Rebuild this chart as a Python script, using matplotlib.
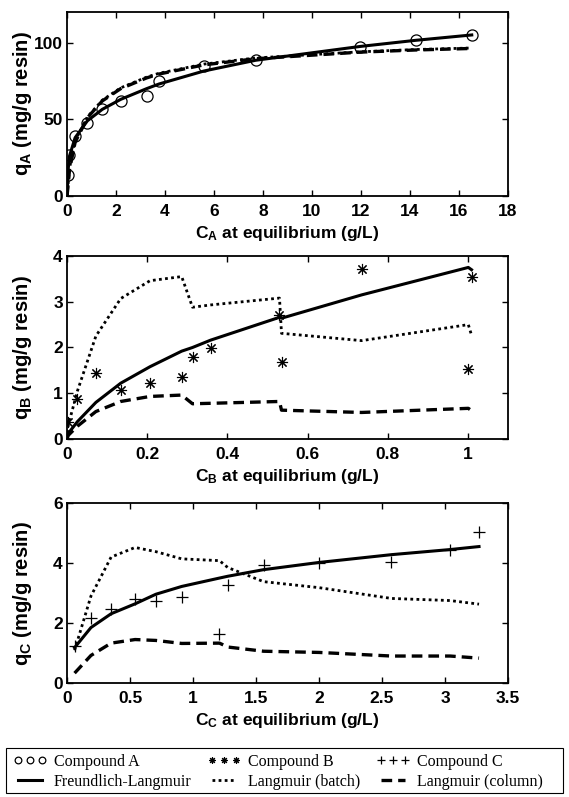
import matplotlib
matplotlib.use("Agg")
import matplotlib.pyplot as plt
from matplotlib.ticker import FixedLocator, FixedFormatter
from matplotlib.patches import Rectangle

plt.rcParams["font.family"] = ["Liberation Sans", "DejaVu Sans"]
plt.rcParams["mathtext.fontset"] = "custom"
plt.rcParams["mathtext.rm"] = "Liberation Sans:bold"
plt.rcParams["mathtext.it"] = "Liberation Sans:bold"
plt.rcParams["mathtext.bf"] = "Liberation Sans:bold"

# ---- Compound A ----
ca_obs = [0.05, 0.1, 0.33, 0.83, 1.44, 2.19, 3.25, 3.75, 5.59, 7.7, 11.96, 14.23, 16.52]
qa_obs = [14, 27, 39, 47.5, 56.7, 62, 65.5, 75, 84.5, 88.5, 97, 102, 105]
ca_fit = [0, 0.05, 0.1, 0.33, 0.83, 1.44, 2.19, 3.25, 3.75, 5.59, 7.7, 11.96, 14.23, 16.52]
qa_fl = [0, 18, 26, 38, 49, 56.5, 63, 70, 73, 81.5, 88.5, 97.5, 101.5, 105]
qa_batch = [0, 9, 18, 36, 51.5, 62.5, 70.5, 77.5, 80, 86, 90, 94, 95.5, 96.5]
qa_col = [0, 8, 17, 35, 51, 62, 70, 77, 79.5, 85.5, 89.5, 93.8, 95.2, 96.2]

# ---- Compound B ----
cb_obs = [0.003, 0.026, 0.072, 0.134, 0.207, 0.286, 0.313, 0.358, 0.53, 0.535, 0.735, 1.001, 1.009]
qb_obs = [0.38, 0.87, 1.44, 1.06, 1.23, 1.35, 1.79, 1.98, 2.71, 1.69, 3.71, 1.52, 3.53]
cb_fit = [0, 0.003, 0.026, 0.072, 0.134, 0.207, 0.286, 0.313, 0.358, 0.53, 0.535, 0.735, 1.001, 1.009]
qb_fl = [0, 0.12, 0.38, 0.8, 1.22, 1.58, 1.92, 2.0, 2.16, 2.66, 2.64, 3.15, 3.75, 3.7]
qb_batch = [0, 0.3, 1.05, 2.25, 3.07, 3.46, 3.55, 2.88, 2.93, 3.08, 2.31, 2.15, 2.5, 2.27]
qb_col = [0, 0.08, 0.28, 0.6, 0.82, 0.93, 0.96, 0.77, 0.78, 0.82, 0.63, 0.58, 0.67, 0.62]

# ---- Compound C ----
cc_obs = [0.06, 0.19, 0.35, 0.54, 0.705, 0.91, 1.21, 1.276, 1.56, 2.0, 2.575, 3.04, 3.27]
qc_obs = [1.25, 2.18, 2.48, 2.8, 2.72, 2.87, 1.64, 3.26, 3.92, 4.0, 4.03, 4.42, 5.05]
cc_fit = [0.06, 0.19, 0.35, 0.54, 0.705, 0.91, 1.21, 1.276, 1.56, 2.0, 2.575, 3.04, 3.27]
qc_fl = [1.18, 1.85, 2.31, 2.64, 2.96, 3.22, 3.5, 3.56, 3.78, 4.02, 4.28, 4.45, 4.55]
qc_batch = [1.09, 2.9, 4.2, 4.52, 4.38, 4.14, 4.08, 3.85, 3.38, 3.18, 2.82, 2.75, 2.63]
qc_col = [0.33, 0.92, 1.33, 1.45, 1.42, 1.32, 1.33, 1.2, 1.06, 1.02, 0.9, 0.9, 0.83]

FIG_W, FIG_H = 569, 797

panels = [
    dict(c_obs=ca_obs, q_obs=qa_obs, c_fit=ca_fit, fl=qa_fl, batch=qa_batch, col=qa_col,
         marker="o", sub="A", xlim=(0, 18), ylim=(0, 120),
         xticks=[0, 2, 4, 6, 8, 10, 12, 14, 16, 18], yticks=[0, 50, 100],
         rect=[0.1178, 0.7541, 0.7750, 0.2309]),
    dict(c_obs=cb_obs, q_obs=qb_obs, c_fit=cb_fit, fl=qb_fl, batch=qb_batch, col=qb_col,
         marker=(8, 2, 0), sub="B", xlim=(0, 1.1), ylim=(0, 4),
         xticks=[0, 0.2, 0.4, 0.6, 0.8, 1.0], yticks=[0, 1, 2, 3, 4],
         rect=[0.1178, 0.4492, 0.7750, 0.2296]),
    dict(c_obs=cc_obs, q_obs=qc_obs, c_fit=cc_fit, fl=qc_fl, batch=qc_batch, col=qc_col,
         marker="+", sub="C", xlim=(0, 3.5), ylim=(0, 6),
         xticks=[0, 0.5, 1, 1.5, 2, 2.5, 3, 3.5], yticks=[0, 2, 4, 6],
         rect=[0.1178, 0.1430, 0.7750, 0.2258]),
]

fig = plt.figure(figsize=(FIG_W / 100, FIG_H / 100), dpi=100)
handles = {}

for p in panels:
    ax = fig.add_axes(p["rect"])
    h_fl, = ax.plot(p["c_fit"], p["fl"], color="black", lw=2.2, ls="-", solid_joinstyle="round")
    h_b, = ax.plot(p["c_fit"], p["batch"], color="black", lw=2.0, ls=(0, (1.0, 1.2)))
    h_c, = ax.plot(p["c_fit"], p["col"], color="black", lw=2.4, ls=(0, (3.2, 1.8)))
    if p["marker"] == "o":
        h_m, = ax.plot(p["c_obs"], p["q_obs"], ls="none", marker="o", ms=8,
                       mfc="none", mec="black", mew=0.9)
    elif p["marker"] == "+":
        h_m, = ax.plot(p["c_obs"], p["q_obs"], ls="none", marker="+", ms=9,
                       mec="black", mew=0.9)
    else:
        h_m, = ax.plot(p["c_obs"], p["q_obs"], ls="none", marker=p["marker"], ms=8,
                       mec="black", mew=0.8)
    handles[p["sub"]] = h_m
    handles["fl"], handles["batch"], handles["col"] = h_fl, h_b, h_c

    ax.set_xlim(*p["xlim"])
    ax.set_ylim(*p["ylim"])
    ax.xaxis.set_major_locator(FixedLocator(p["xticks"]))
    ax.xaxis.set_major_formatter(FixedFormatter(["%g" % t for t in p["xticks"]]))
    ax.yaxis.set_major_locator(FixedLocator(p["yticks"]))
    ax.yaxis.set_major_formatter(FixedFormatter(["%g" % t for t in p["yticks"]]))
    ax.tick_params(direction="in", top=True, right=True, length=4, width=1.0,
                   labelsize=12.5)
    ax.tick_params(axis="x", pad=5.5)
    ax.tick_params(axis="y", pad=3)
    for lab in ax.get_xticklabels() + ax.get_yticklabels():
        lab.set_fontweight("bold")
    for s in ax.spines.values():
        s.set_linewidth(1.3)

    ax_w_px = p["rect"][2] * FIG_W
    ax_h_px = p["rect"][3] * FIG_H
    ax.set_xlabel(r"C$_{\mathregular{%s}}$ at equilibrium (g/L)" % p["sub"],
                  fontsize=12.5, fontweight="bold")
    ax.xaxis.set_label_coords(0.5, -28.0 / ax_h_px)
    ax.set_ylabel(r"q$_{\mathregular{%s}}$ (mg/g resin)" % p["sub"],
                  fontsize=14.5, fontweight="bold")
    ax.yaxis.set_label_coords(-33.0 / ax_w_px, 0.5)

leg_handles = [handles["A"], handles["fl"], handles["B"], handles["batch"],
               handles["C"], handles["col"]]
leg_labels = ["Compound A", "Freundlich-Langmuir", "Compound B", "Langmuir (batch)",
              "Compound C", "Langmuir (column)"]
leg = fig.legend(leg_handles, leg_labels, loc="upper left",
                 bbox_to_anchor=(13 / FIG_W, 1 - 754 / FIG_H),
                 ncol=3, numpoints=3, markerscale=0.6, handlelength=2.1,
                 handletextpad=0.45, columnspacing=1.0, borderpad=0.0,
                 borderaxespad=0.0, labelspacing=0.25, frameon=False,
                 prop={"family": "Liberation Serif", "size": 11.5})

# box around the key
fig.add_artist(Rectangle((6 / FIG_W, 4 / FIG_H), 557 / FIG_W, 45 / FIG_H,
                         transform=fig.transFigure, fill=False,
                         edgecolor="black", lw=0.8))

fig.savefig("out.png", dpi=100)
